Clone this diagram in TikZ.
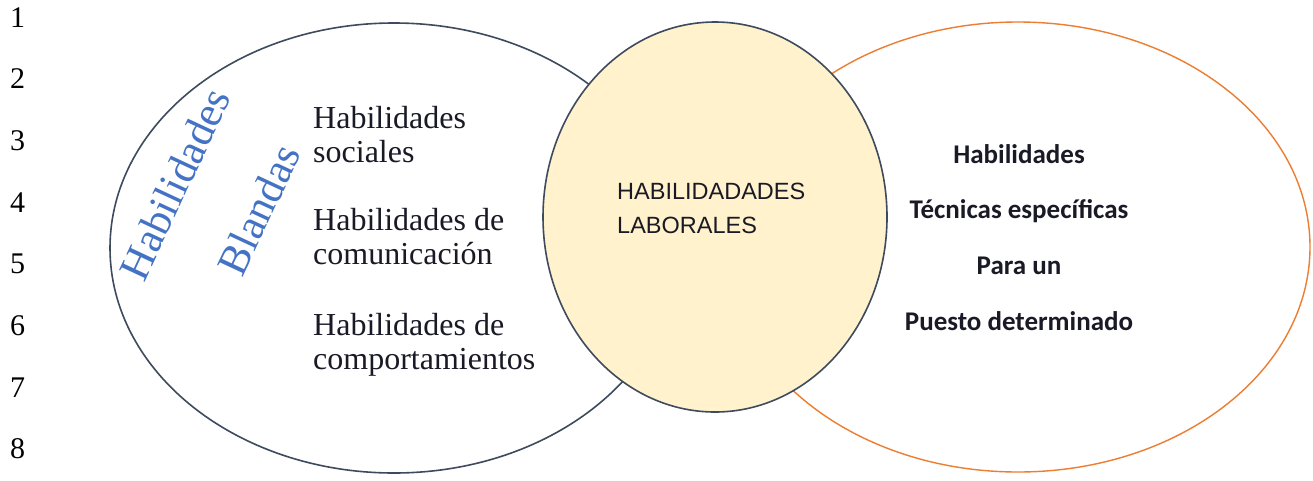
\documentclass[tikz,border=0pt]{standalone}
\usepackage{fontspec}
\setmainfont{Liberation Serif}
\newfontfamily\arialf{Liberation Sans}
\newfontfamily\calf{Carlito}
\definecolor{slate}{HTML}{3E4A5E}
\definecolor{orng}{HTML}{ED7D31}
\definecolor{gold}{HTML}{FFF2CC}
\definecolor{hblue}{HTML}{4472C4}
\definecolor{ink}{HTML}{1A1A26}
\begin{document}
\begin{tikzpicture}[x=1pt,y=-1pt,
  num/.style={anchor=base west, inner sep=0pt, font=\fontsize{30}{30}\selectfont, text=black},
  lefttxt/.style={anchor=base west, inner sep=0pt, font=\fontsize{32}{34}\selectfont, text=ink},
  midtxt/.style={anchor=base west, inner sep=0pt, font=\arialf\fontsize{23.5}{23.5}\selectfont, text=ink},
  righttxt/.style={anchor=base, inner sep=0pt, font=\calf\bfseries\fontsize{27}{27}\selectfont, text=ink},
  blueword/.style={anchor=base, inner sep=0pt, rotate=65, font=\fontsize{43}{43}\selectfont, text=hblue}
]
\useasboundingbox (0,0) rectangle (1313,480);
\fill[white] (0,0) rectangle (1313,480);

% line numbers
\foreach \i in {1,...,8}
  \node[num] (n\i) at ({10},{27+61.7*(\i-1)}) {\i};

% outer ellipses
\draw[slate, line width=1.6pt] (394,248) ellipse [x radius=284pt, y radius=225pt];
\draw[orng, line width=1.4pt] (1018,247) ellipse [x radius=292pt, y radius=225pt];
% middle ellipse
\draw[slate, line width=1.6pt, fill=gold] (715,217) ellipse [x radius=172pt, y radius=195pt];

% blue words
\node[blueword] (b1) at (188,190) {Habilidades};
\node[blueword] (b2) at (272,216) {Blandas};

% left texts
\node[lefttxt] (l1) at (313,128) {Habilidades};
\node[lefttxt] (l2) at (313,162) {sociales};
\node[lefttxt] (l3) at (313,230) {Habilidades de};
\node[lefttxt] (l4) at (313,264) {comunicación};
\node[lefttxt] (l5) at (313,335) {Habilidades de};
\node[lefttxt] (l6) at (313,369) {comportamientos};

% middle texts
\node[midtxt] (m1) at (617,199) {HABILIDADADES};
\node[midtxt] (m2) at (617,233) {LABORALES};

% right texts
\node[righttxt] (r1) at (1019,163) {Habilidades};
\node[righttxt] (r2) at (1019,218) {Técnicas específicas};
\node[righttxt] (r3) at (1019,274) {Para un};
\node[righttxt] (r4) at (1019,330) {Puesto determinado};
\end{tikzpicture}
\end{document}
